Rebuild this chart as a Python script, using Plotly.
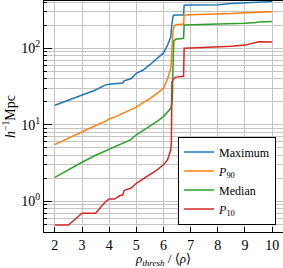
import plotly.graph_objects as go

x = [2.0, 2.5, 3.0, 3.5, 3.85, 4.0, 4.2, 4.4, 4.5, 4.55, 4.6, 4.8, 5.0, 5.25, 5.5,
     5.75, 6.0, 6.15, 6.27, 6.29, 6.31, 6.33, 6.35, 6.38, 6.45, 6.74, 6.76, 7.0,
     7.5, 8.0, 8.5, 9.0, 9.4, 9.5, 10.0]

maximum = [18, 21, 24.5, 28.5, 33, 34, 34.5, 35, 35.2, 37.5, 38, 40, 47, 52, 61,
           72, 87, 110, 140, 180, 225, 250, 265, 270, 272, 272, 365, 368,
           370, 372, 385, 392, 398, 400, 408]
p90 = [5.5, 6.7, 8.1, 9.8, 11.1, 11.9, 12.6, 13.5, 14.0, 14.3, 14.6, 15.6, 17, 19.5, 22,
       25.5, 30, 40, 55, 70, 100, 140, 170, 190, 203, 208, 272, 274,
       276, 278, 284, 292, 297, 298, 300]
median = [2.06, 2.6, 3.24, 4.0, 4.55, 4.8, 5.2, 5.6, 5.8, 5.9, 6.0, 6.4, 7.4, 8.4, 9.5,
          11.0, 12.8, 14.8, 16.4, 18, 20, 22, 60, 125, 131, 135, 201, 202,
          204, 206, 208, 213, 218, 220, 224]
p10 = [0.49, 0.49, 0.70, 0.70, 0.98, 1.07, 1.07, 1.19, 1.21, 1.38, 1.41, 1.48, 1.72, 1.95, 2.2,
       2.55, 3.0, 3.5, 4.75, 6.0, 36, 38, 39, 40, 42, 43, 100, 101,
       102, 104, 106, 110, 121, 122, 121]

names = ["Maximum", "<i>P</i><sub>90</sub>", "Median", "<i>P</i><sub>10</sub>"]
series = [maximum, p90, median, p10]
colors = ["#1f77b4", "#ff7f0e", "#2ca02c", "#d62728"]

x_ticks = [2, 3, 4, 5, 6, 7, 8, 9, 10]
y_ticks = [1, 10, 100]
y_ticktext = ["10<sup>0</sup>", "10<sup>1</sup>", "10<sup>2</sup>"]
y_minor = [0.4, 0.5, 0.6, 0.7, 0.8, 0.9, 2, 3, 4, 5, 6, 7, 8, 9,
           20, 30, 40, 50, 60, 70, 80, 90, 200, 300, 400]

FONT = "Liberation Serif, DejaVu Serif, serif"
GRID = "#c4c4c4"

fig = go.Figure()
for name, ys, c in zip(names, series, colors):
    fig.add_trace(go.Scatter(x=x, y=ys, mode="lines", name=name,
                             line=dict(color=c, width=1.5)))

fig.update_layout(
    width=283, height=268,
    margin=dict(l=44, r=0, t=1, b=36, autoexpand=False),
    paper_bgcolor="white", plot_bgcolor="white",
    font=dict(family=FONT, size=14, color="black"),
    showlegend=True,
    legend=dict(x=0.971, y=0.032, xanchor="right", yanchor="bottom",
                bgcolor="white", bordercolor="black", borderwidth=1,
                font=dict(family=FONT, size=12), tracegroupgap=0,
                itemwidth=30),
)
fig.update_xaxes(
    range=[1.6, 10.4], tickvals=x_ticks, ticks="inside", ticklen=5,
    tickcolor="black", showline=True, linecolor="black", linewidth=1, mirror=True,
    showgrid=True, gridcolor=GRID, gridwidth=1, zeroline=False, automargin=False,
    tickfont=dict(size=14),
    title=dict(text="<i>ρ</i><sub><i>thresh</i></sub> / ⟨<i>ρ</i>⟩", standoff=4,
               font=dict(size=13)),
)
fig.update_yaxes(
    type="log", range=[-0.401, 2.618], tickvals=y_ticks, ticktext=y_ticktext,
    ticks="inside", ticklen=8, tickcolor="black", automargin=False,
    showline=True, linecolor="black", linewidth=1, mirror=True,
    showgrid=True, gridcolor=GRID, gridwidth=1, zeroline=False,
    tickfont=dict(size=14),
    minor=dict(tickvals=y_minor, ticks="inside", ticklen=3, tickcolor="black",
               showgrid=True, gridcolor=GRID, gridwidth=1),
    title=dict(text="<i>h</i><sup>−1</sup>Mpc", standoff=4, font=dict(size=14)),
)

fig.write_html("out.html", config={"displayModeBar": False},
               post_script="document.body.style.margin='0';document.body.style.overflow='hidden';")
